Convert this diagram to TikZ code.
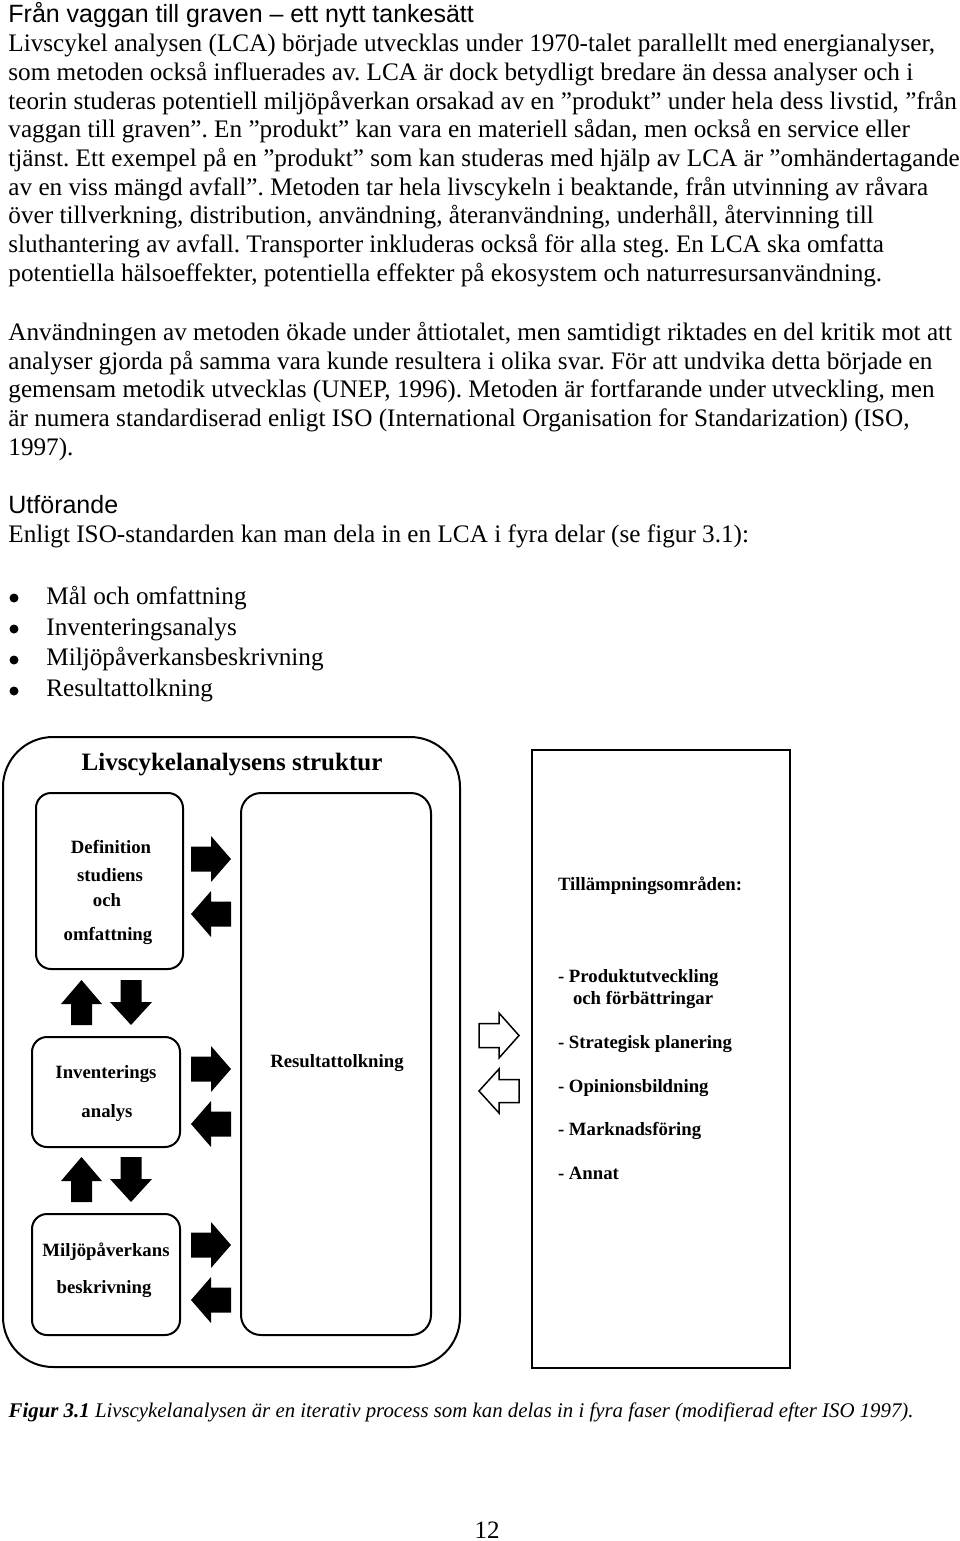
\documentclass[tikz,border=0pt]{standalone}
\usepackage{fontspec}
\setmainfont{Liberation Serif}
\setsansfont{Liberation Sans}
\frenchspacing
\newlength{\du}
\setlength{\du}{0.48pt}
\tikzset{
  bodyline/.style={anchor=base west, inner sep=0pt, font=\fontsize{12.1}{14}\selectfont},
  headline/.style={anchor=base west, inner sep=0pt, font=\sffamily\fontsize{12}{14}\selectfont},
  boxtext/.style={anchor=base, inner sep=0pt, font=\bfseries\fontsize{9}{11}\selectfont},
  listtext/.style={anchor=base west, inner sep=0pt, font=\bfseries\fontsize{9}{11}\selectfont},
}
\begin{document}
\begin{tikzpicture}
\pgftransformxscale{1.000000}
\pgftransformyscale{-1.000000}
\useasboundingbox (0\du,0\du) rectangle (960\du,1541\du);
\definecolor{dialinecolor}{rgb}{0.000000, 0.000000, 0.000000}
\pgfsetstrokecolor{dialinecolor}
\pgfsetfillcolor{dialinecolor}
% page text
\node[headline] (heading) at (8\du,22\du){Från vaggan till graven – ett nytt tankesätt};
\node[bodyline] (lca1) at (8\du,51\du){Livscykel analysen (LCA) började utvecklas under 1970-talet parallellt med energianalyser,};
\node[bodyline] (lca2) at (8\du,80\du){som metoden också influerades av. LCA är dock betydligt bredare än dessa analyser och i};
\node[bodyline] (lca3) at (8\du,109\du){teorin studeras potentiell miljöpåverkan orsakad av en ”produkt” under hela dess livstid, ”från};
\node[bodyline] (lca4) at (8\du,137\du){vaggan till graven”. En ”produkt” kan vara en materiell sådan, men också en service eller};
\node[bodyline] (lca5) at (8\du,166\du){tjänst. Ett exempel på en ”produkt” som kan studeras med hjälp av LCA är ”omhändertagande};
\node[bodyline] (lca6) at (8\du,195\du){av en viss mängd avfall”. Metoden tar hela livscykeln i beaktande, från utvinning av råvara};
\node[bodyline] (lca7) at (8\du,223\du){över tillverkning, distribution, användning, återanvändning, underhåll, återvinning till};
\node[bodyline] (lca8) at (8\du,252\du){sluthantering av avfall. Transporter inkluderas också för alla steg. En LCA ska omfatta};
\node[bodyline] (lca9) at (8\du,281\du){potentiella hälsoeffekter, potentiella effekter på ekosystem och naturresursanvändning.};
\node[bodyline] (use1) at (8\du,340\du){Användningen av metoden ökade under åttiotalet, men samtidigt riktades en del kritik mot att};
\node[bodyline] (use2) at (8\du,369\du){analyser gjorda på samma vara kunde resultera i olika svar. För att undvika detta började en};
\node[bodyline] (use3) at (8\du,397\du){gemensam metodik utvecklas (UNEP, 1996). Metoden är fortfarande under utveckling, men};
\node[bodyline] (use4) at (8\du,426\du){är numera standardiserad enligt ISO (International Organisation for Standarization) (ISO,};
\node[bodyline] (use5) at (8\du,455\du){1997).};
\node[headline] (utf) at (8\du,513\du){Utförande};
\node[bodyline] (utf1) at (8\du,542\du){Enligt ISO-standarden kan man dela in en LCA i fyra delar (se figur 3.1):};
% bullet list
\fill (14\du,598\du) circle (4.5\du);
\fill (14\du,629\du) circle (4.5\du);
\fill (14\du,660\du) circle (4.5\du);
\fill (14\du,691\du) circle (4.5\du);
\node[bodyline] (item1) at (46\du,604\du){Mål och omfattning};
\node[bodyline] (item2) at (46\du,635\du){Inventeringsanalys};
\node[bodyline] (item3) at (46\du,665\du){Miljöpåverkansbeskrivning};
\node[bodyline] (item4) at (46\du,696\du){Resultattolkning};
% figure frames
\pgfsetlinewidth{2.000000\du}
\draw[rounded corners=50\du] (3\du,737\du) rectangle (460\du,1367\du);
\draw[rounded corners=15\du] (36\du,793\du) rectangle (183\du,969\du);
\draw[rounded corners=15\du] (32\du,1037\du) rectangle (180\du,1147\du);
\draw[rounded corners=15\du] (32\du,1214\du) rectangle (180\du,1335\du);
\draw[rounded corners=20\du] (241\du,793\du) rectangle (431\du,1335\du);
\draw (532\du,750\du) rectangle (790\du,1368\du);
% figure texts
\node[boxtext, font=\bfseries\fontsize{12}{14}\selectfont] (title) at (232\du,770\du){Livscykelanalysens struktur};
\node[boxtext] (def1) at (111\du,853\du){Definition};
\node[boxtext] (def2) at (110\du,881\du){studiens};
\node[boxtext] (def3) at (107\du,906\du){och};
\node[boxtext] (def4) at (108\du,940\du){omfattning};
\node[boxtext] (inv1) at (106\du,1078\du){Inventerings};
\node[boxtext] (inv2) at (107\du,1117\du){analys};
\node[boxtext] (milj1) at (106\du,1256\du){Miljöpåverkans};
\node[boxtext] (milj2) at (104\du,1293\du){beskrivning};
\node[boxtext] (res) at (337\du,1067\du){Resultattolkning};
\node[listtext] (app) at (557\du,890\du){Tillämpningsområden:};
\node[listtext] (app1) at (557\du,982\du){- Produktutveckling};
\node[listtext] (app1b) at (572\du,1004\du){och förbättringar};
\node[listtext] (app2) at (557\du,1048\du){- Strategisk planering};
\node[listtext] (app3) at (557\du,1092\du){- Opinionsbildning};
\node[listtext] (app4) at (557\du,1135\du){- Marknadsföring};
\node[listtext] (app5) at (557\du,1179\du){- Annat};
% black block arrows, right then left
\fill (191\du,859\du) ++(0,-12.5\du)--++(20\du,0)--++(0,-10.5\du)--++(20\du,23\du)--++(-20\du,23\du)--++(0,-10.5\du)--++(-20\du,0)--cycle;
\fill (231\du,914\du) ++(0,-12.5\du)--++(-20\du,0)--++(0,-10.5\du)--++(-20\du,23\du)--++(20\du,23\du)--++(0,-10.5\du)--++(20\du,0)--cycle;
\fill (191\du,1069\du) ++(0,-12.5\du)--++(20\du,0)--++(0,-10.5\du)--++(20\du,23\du)--++(-20\du,23\du)--++(0,-10.5\du)--++(-20\du,0)--cycle;
\fill (231\du,1124\du) ++(0,-12.5\du)--++(-20\du,0)--++(0,-10.5\du)--++(-20\du,23\du)--++(20\du,23\du)--++(0,-10.5\du)--++(20\du,0)--cycle;
\fill (191\du,1245\du) ++(0,-12.5\du)--++(20\du,0)--++(0,-10.5\du)--++(20\du,23\du)--++(-20\du,23\du)--++(0,-10.5\du)--++(-20\du,0)--cycle;
\fill (231\du,1300\du) ++(0,-12.5\du)--++(-20\du,0)--++(0,-10.5\du)--++(-20\du,23\du)--++(20\du,23\du)--++(0,-10.5\du)--++(20\du,0)--cycle;
% black block arrows, up then down
\fill (81.5\du,980\du)--++(20.5\du,24\du)--++(-10\du,0)--++(0,21\du)--++(-21\du,0)--++(0,-21\du)--++(-10\du,0)--cycle;
\fill (120.5\du,980\du)--++(21\du,0)--++(0,22\du)--++(10.5\du,0)--++(-21\du,23\du)--++(-21\du,-23\du)--++(10.5\du,0)--cycle;
\fill (81.5\du,1157\du)--++(20.5\du,24\du)--++(-10\du,0)--++(0,21\du)--++(-21\du,0)--++(0,-21\du)--++(-10\du,0)--cycle;
\fill (120.5\du,1157\du)--++(21\du,0)--++(0,22\du)--++(10.5\du,0)--++(-21\du,23\du)--++(-21\du,-23\du)--++(10.5\du,0)--cycle;
% outline arrows
\pgfsetlinewidth{1.500000\du}
\pgfsetmiterjoin
\draw (479\du,1035.5\du) ++(0,-12\du)--++(20\du,0)--++(0,-10.5\du)--++(20\du,22.5\du)--++(-20\du,22.5\du)--++(0,-10.5\du)--++(-20\du,0)--cycle;
\draw (519\du,1091\du) ++(0,-11.5\du)--++(-20\du,0)--++(0,-10.5\du)--++(-20\du,22\du)--++(20\du,22\du)--++(0,-10.5\du)--++(20\du,0)--cycle;
% caption and page number
\node[bodyline, font=\itshape\fontsize{10}{12}\selectfont] (caption) at (8\du,1417\du){\textbf{Figur 3.1} Livscykelanalysen är en iterativ process som kan delas in i fyra faser (modifierad efter ISO 1997).};
\node[anchor=base, inner sep=0pt, font=\fontsize{12}{14}\selectfont] (pagenum) at (487\du,1538\du){12};
\end{tikzpicture}
\end{document}
